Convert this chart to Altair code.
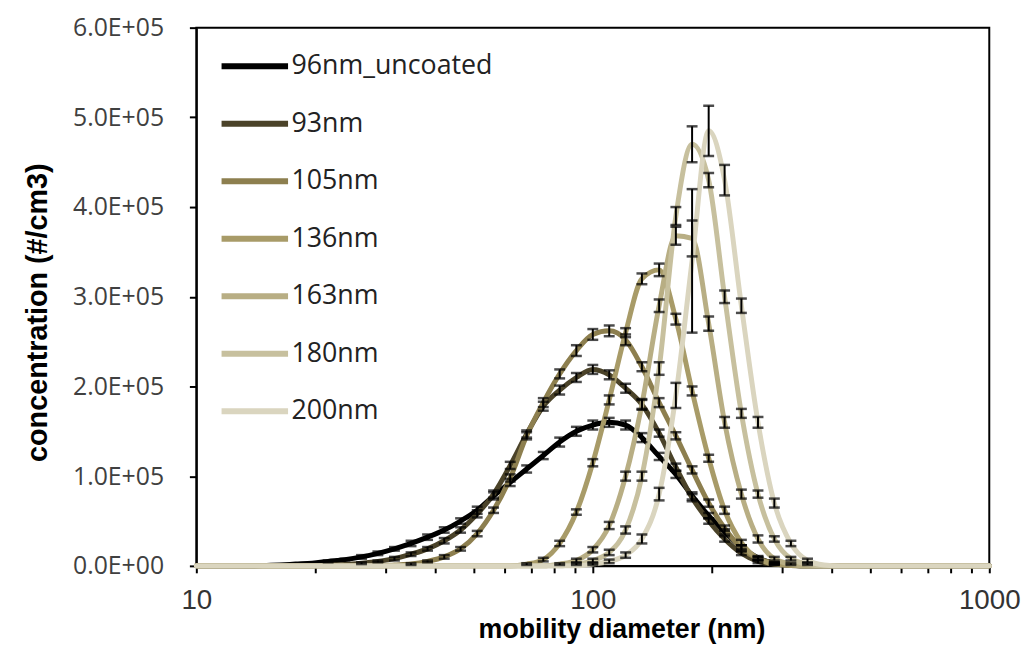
import altair as alt
import pandas as pd

# mobility diameter bins (nm)
diameters = [10.0, 11.0, 12.1, 13.3, 14.7, 16.2, 17.8, 19.6, 21.5, 23.7,
             26.1, 28.7, 31.6, 34.8, 38.3, 42.2, 46.4, 51.1, 56.2, 61.9,
             68.1, 75.0, 82.5, 90.9, 100, 110, 121, 133, 147, 162,
             178, 196, 215, 237, 261, 287, 316, 348, 383, 422,
             464, 511, 562, 619, 681, 750, 825, 909, 1000]

series_names = ["96nm_uncoated", "93nm", "105nm", "136nm", "163nm", "180nm", "200nm"]
series_colors = ["#000000", "#4b4329", "#8d7f4f", "#a89b68", "#b8ae84", "#c7c09e", "#dad5bf"]

# concentration, units of 1e5 #/cm3
c_96u = [0, 0, 0, 0, 0.003, 0.01, 0.02, 0.03, 0.05, 0.07,
         0.10, 0.14, 0.19, 0.25, 0.32, 0.40, 0.50, 0.62, 0.78, 0.93,
         1.08, 1.23, 1.38, 1.50, 1.57, 1.60, 1.57, 1.43, 1.22, 1.02,
         0.78, 0.56, 0.38, 0.21, 0.09, 0.03, 0.01, 0, 0, 0,
         0, 0, 0, 0, 0, 0, 0, 0, 0]
c_93 = [0, 0, 0, 0, 0, 0, 0, 0, 0.01, 0.015,
        0.03, 0.05, 0.08, 0.13, 0.19, 0.28, 0.40, 0.58, 0.80, 1.12,
        1.47, 1.78, 1.96, 2.10, 2.19, 2.13, 1.98, 1.80, 1.48, 1.10,
        0.76, 0.50, 0.30, 0.14, 0.05, 0.02, 0.005, 0, 0, 0,
        0, 0, 0, 0, 0, 0, 0, 0, 0]
c_105 = [0, 0, 0, 0, 0, 0, 0, 0, 0, 0,
         0, 0, 0.01, 0.02, 0.05, 0.10, 0.19, 0.36, 0.62, 0.98,
         1.45, 1.82, 2.14, 2.40, 2.58, 2.62, 2.52, 2.22, 1.82, 1.45,
         1.07, 0.70, 0.42, 0.20, 0.08, 0.03, 0.01, 0, 0, 0,
         0, 0, 0, 0, 0, 0, 0, 0, 0]
c_136 = [0, 0, 0, 0, 0, 0, 0, 0, 0, 0,
         0, 0, 0, 0, 0, 0, 0, 0, 0, 0,
         0.02, 0.07, 0.25, 0.60, 1.15, 1.85, 2.60, 3.20, 3.30, 2.75,
         1.95, 1.20, 0.62, 0.26, 0.08, 0.02, 0.005, 0, 0, 0,
         0, 0, 0, 0, 0, 0, 0, 0, 0]
c_163 = [0, 0, 0, 0, 0, 0, 0, 0, 0, 0,
         0, 0, 0, 0, 0, 0, 0, 0, 0, 0,
         0, 0, 0.02, 0.06, 0.18, 0.45, 1.00, 1.80, 2.90, 3.68,
         3.65, 2.70, 1.60, 0.80, 0.30, 0.08, 0.02, 0, 0, 0,
         0, 0, 0, 0, 0, 0, 0, 0, 0]
c_180 = [0, 0, 0, 0, 0, 0, 0, 0, 0, 0,
         0, 0, 0, 0, 0, 0, 0, 0, 0, 0,
         0, 0, 0, 0.02, 0.06, 0.15, 0.40, 1.00, 2.20, 3.90,
         4.70, 4.30, 3.00, 1.70, 0.80, 0.30, 0.08, 0.02, 0, 0,
         0, 0, 0, 0, 0, 0, 0, 0, 0]
c_200 = [0, 0, 0, 0, 0, 0, 0, 0, 0, 0,
         0, 0, 0, 0, 0, 0, 0, 0, 0, 0,
         0, 0, 0, 0, 0.02, 0.05, 0.12, 0.30, 0.80, 1.90,
         3.40, 4.85, 4.30, 2.90, 1.60, 0.70, 0.25, 0.06, 0.01, 0,
         0, 0, 0, 0, 0, 0, 0, 0, 0]

# error (+/-), units of 1e5 #/cm3
e_96u = [0, 0, 0, 0, 0, 0, 0, 0, 0.01, 0.01,
         0.02, 0.02, 0.02, 0.03, 0.03, 0.03, 0.03, 0.04, 0.04, 0.04,
         0.04, 0.04, 0.05, 0.05, 0.05, 0.05, 0.05, 0.05, 0.04, 0.04,
         0.04, 0.03, 0.03, 0.02, 0.02, 0.01, 0, 0, 0, 0,
         0, 0, 0, 0, 0, 0, 0, 0, 0]
e_93 = [0, 0, 0, 0, 0, 0, 0, 0, 0, 0,
        0.01, 0.01, 0.02, 0.02, 0.02, 0.03, 0.03, 0.04, 0.04, 0.04,
        0.04, 0.05, 0.05, 0.05, 0.05, 0.05, 0.05, 0.05, 0.04, 0.04,
        0.04, 0.03, 0.03, 0.02, 0.02, 0.01, 0, 0, 0, 0,
        0, 0, 0, 0, 0, 0, 0, 0, 0]
e_105 = [0, 0, 0, 0, 0, 0, 0, 0, 0, 0,
         0, 0, 0, 0.01, 0.01, 0.02, 0.02, 0.03, 0.03, 0.04,
         0.04, 0.05, 0.05, 0.06, 0.06, 0.06, 0.06, 0.05, 0.05, 0.04,
         0.04, 0.04, 0.03, 0.03, 0.02, 0.01, 0, 0, 0, 0,
         0, 0, 0, 0, 0, 0, 0, 0, 0]
e_136 = [0, 0, 0, 0, 0, 0, 0, 0, 0, 0,
         0, 0, 0, 0, 0, 0, 0, 0, 0, 0,
         0.01, 0.02, 0.03, 0.03, 0.04, 0.05, 0.05, 0.06, 0.07, 0.06,
         0.05, 0.04, 0.04, 0.03, 0.02, 0.01, 0, 0, 0, 0,
         0, 0, 0, 0, 0, 0, 0, 0, 0]
e_163 = [0, 0, 0, 0, 0, 0, 0, 0, 0, 0,
         0, 0, 0, 0, 0, 0, 0, 0, 0, 0,
         0, 0, 0.01, 0.02, 0.03, 0.04, 0.05, 0.06, 0.07, 0.10,
         0.20, 0.08, 0.06, 0.05, 0.04, 0.02, 0.01, 0, 0, 0,
         0, 0, 0, 0, 0, 0, 0, 0, 0]
e_180 = [0, 0, 0, 0, 0, 0, 0, 0, 0, 0,
         0, 0, 0, 0, 0, 0, 0, 0, 0, 0,
         0, 0, 0, 0.01, 0.02, 0.03, 0.04, 0.05, 0.07, 0.10,
         0.20, 0.08, 0.07, 0.05, 0.04, 0.03, 0.02, 0.01, 0, 0,
         0, 0, 0, 0, 0, 0, 0, 0, 0]
e_200 = [0, 0, 0, 0, 0, 0, 0, 0, 0, 0,
         0, 0, 0, 0, 0, 0, 0, 0, 0, 0,
         0, 0, 0, 0, 0.01, 0.02, 0.03, 0.05, 0.07, 0.14,
         0.80, 0.28, 0.17, 0.08, 0.06, 0.05, 0.03, 0.02, 0, 0,
         0, 0, 0, 0, 0, 0, 0, 0, 0]

values = [c_96u, c_93, c_105, c_136, c_163, c_180, c_200]
errors = [e_96u, e_93, e_105, e_136, e_163, e_180, e_200]

rows = []
for si, (name, vals, errs) in enumerate(zip(series_names, values, errors)):
    for d, v, e in zip(diameters, vals, errs):
        rows.append({"series": name, "order": si, "d": d,
                     "conc": v * 1e5, "err": e * 1e5})
df = pd.DataFrame(rows)

FONT = "Open Sans"
SANS = "Liberation Sans, Arial, sans-serif"

x_scale = alt.Scale(type="log", domain=[10, 1000], nice=False)
y_scale = alt.Scale(domain=[0, 600000], nice=False)

x_enc = alt.X("d:Q", scale=x_scale,
              axis=alt.Axis(values=[10, 20, 30, 40, 50, 60, 70, 80, 90, 100,
                                    200, 300, 400, 500, 600, 700, 800, 900, 1000],
                            labelExpr="(datum.value == 10 || datum.value == 100 || datum.value == 1000) ? format(datum.value, 'd') : ''",
                            grid=False, tickSize=7, tickWidth=2, tickColor="black",
                            domainColor="black", domainWidth=2,
                            labelFont=SANS, labelFontSize=28, labelColor="#333333",
                            labelPadding=14, labelFlush=False, labelOverlap=False,
                            title="mobility diameter (nm)",
                            titleFont=SANS, titleFontSize=27, titleFontWeight="bold",
                            titleColor="black", titlePadding=2, titleX=429))

y_axis = alt.Axis(values=[0, 100000, 200000, 300000, 400000, 500000, 600000],
                  labelExpr="datum.value == 0 ? '0.0E+00' : format(datum.value / 100000, '.1f') + 'E+05'",
                  grid=False, tickSize=7, tickWidth=2, tickColor="black",
                  domainColor="black", domainWidth=2,
                  labelFont=FONT, labelFontSize=25, labelColor="#404040",
                  labelPadding=26,
                  title="concentration (#/cm3)",
                  titleFont=SANS, titleFontSize=29, titleFontWeight="bold",
                  titleColor="black", titleX=-145, titleY=287)

lines = alt.Chart(df).mark_line(strokeWidth=5, interpolate="monotone", strokeCap="round").encode(
    x=x_enc,
    y=alt.Y("conc:Q", scale=y_scale, axis=y_axis),
    color=alt.Color("series:N",
                    scale=alt.Scale(domain=series_names, range=series_colors),
                    legend=alt.Legend(orient="none", legendX=22, legendY=2, title=None,
                                      symbolType="stroke", symbolSize=4500,
                                      symbolStrokeWidth=6, labelFont=FONT,
                                      labelFontSize=27, labelColor="#222222",
                                      labelLimit=400, labelOffset=0, rowPadding=8)),
    detail="order:O",
    order="order:O",
)

err_base = alt.Chart(df).transform_filter("datum.err > 0").transform_calculate(
    lo="datum.conc - datum.err", hi="datum.conc + datum.err")

err_rule = err_base.mark_rule(color="black", strokeWidth=2).encode(
    x=x_enc,
    y=alt.Y("lo:Q", scale=y_scale, axis=y_axis),
    y2="hi:Q")

cap_lo = err_base.mark_tick(color="black", thickness=2.5, size=11, orient="horizontal").encode(
    x=x_enc,
    y=alt.Y("lo:Q", scale=y_scale, axis=y_axis))
cap_hi = err_base.mark_tick(color="black", thickness=2.5, size=11, orient="horizontal").encode(
    x=x_enc,
    y=alt.Y("hi:Q", scale=y_scale, axis=y_axis))

chart = alt.layer(lines, err_rule, cap_lo, cap_hi).properties(
    width=800, height=543,
    padding={"left": 16, "top": 5, "right": 0, "bottom": 0},
).configure(background="white").configure_view(stroke="black", strokeWidth=2)

chart.save("out.html", embed_options={"renderer": "svg", "actions": False})
